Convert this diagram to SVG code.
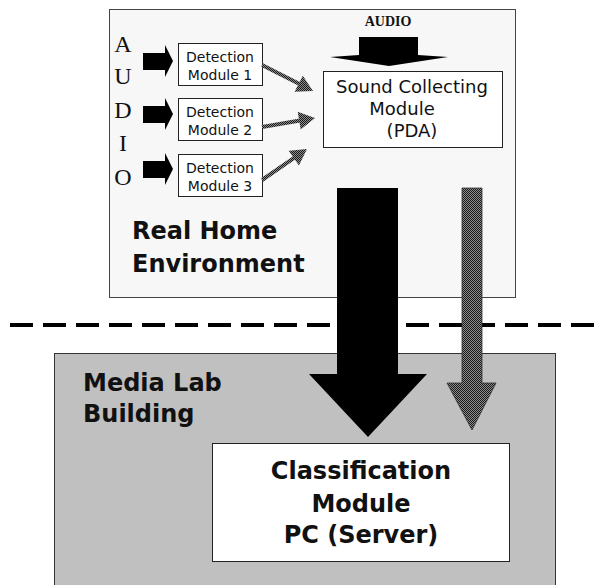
<svg xmlns="http://www.w3.org/2000/svg" width="601" height="585" viewBox="0 0 601 585">
<defs>
<pattern id="dots" width="2" height="2" patternUnits="userSpaceOnUse">
<rect width="2" height="2" fill="#8c8c8c"/>
<rect width="1" height="1" fill="#1a1a1a"/>
<rect x="1" y="1" width="1" height="1" fill="#1a1a1a"/>
</pattern>
</defs>
<style>
.box{fill:#fff;stroke:#222;stroke-width:1}
.det{font-family:"DejaVu Sans",Verdana,sans-serif;font-size:14px;fill:#111;text-anchor:middle}
.snd{font-family:"DejaVu Sans",Verdana,sans-serif;font-size:18px;fill:#111;text-anchor:middle}
.big{font-family:"DejaVu Sans",Verdana,sans-serif;font-size:24px;font-weight:bold;fill:#111}
.ser{font-family:"Liberation Serif","Times New Roman",serif;font-size:24px;fill:#111;text-anchor:middle}
.hat{stroke:url(#dots);stroke-width:4;fill:none}
.hh{fill:url(#dots)}
</style>
<rect width="601" height="585" fill="#fff"/>
<g id="media-lab">
<rect x="54.5" y="353.5" width="501" height="240" fill="#c0c0c0" stroke="#333" stroke-width="1"/>
<text class="big" x="83" y="391">Media Lab</text>
<text class="big" x="83" y="422">Building</text>
</g>
<g id="real-home">
<rect x="109.5" y="9.5" width="406" height="288" fill="#f7f7f7" stroke="#444" stroke-width="1"/>
<text class="big" x="132" y="239">Real Home</text>
<text class="big" x="132" y="272">Environment</text>
</g>
<g id="audio-letters">
<text class="ser" x="123" y="52">A</text>
<text class="ser" x="123" y="84">U</text>
<text class="ser" x="123" y="118">D</text>
<text class="ser" x="123" y="151">I</text>
<text class="ser" x="123" y="185">O</text>
</g>
<line x1="10" y1="325" x2="601" y2="325" stroke="#000" stroke-width="4" stroke-dasharray="23 10"/>
<g id="det1">
<rect class="box" x="178.5" y="43.5" width="84" height="42"/>
<text class="det" x="220" y="62">Detection</text>
<text class="det" x="220" y="80">Module 1</text>
</g>
<g id="det2">
<rect class="box" x="178.5" y="98.5" width="84" height="42"/>
<text class="det" x="220" y="117">Detection</text>
<text class="det" x="220" y="135">Module 2</text>
</g>
<g id="det3">
<rect class="box" x="178.5" y="154.5" width="84" height="42"/>
<text class="det" x="220" y="173">Detection</text>
<text class="det" x="220" y="191">Module 3</text>
</g>
<g id="sound">
<rect class="box" x="323.5" y="71.5" width="179" height="76"/>
<text class="snd" x="412" y="93">Sound Collecting</text>
<text class="snd" x="402" y="115">Module</text>
<text class="snd" x="412" y="137">(PDA)</text>
</g>
<g id="classification">
<rect class="box" x="212.5" y="443.5" width="297" height="118"/>
<text class="big" x="361" y="479" text-anchor="middle">Classification</text>
<text class="big" x="361" y="512" text-anchor="middle">Module</text>
<text class="big" x="361" y="543" text-anchor="middle">PC (Server)</text>
</g>
<g id="connectors">
<polygon points="143,53 165,53 165,45 173,61 165,77 165,70 143,70" fill="#000"/>
<polygon points="143,106 165,106 165,98 173,114 165,130 165,123 143,123" fill="#000"/>
<polygon points="143,161 165,161 165,153 173,169 165,185 165,178 143,178" fill="#000"/>
<text x="388" y="26" font-family="Liberation Serif,'Times New Roman',serif" font-size="14" font-weight="bold" text-anchor="middle" fill="#111">AUDIO</text>
<polygon points="359,37 418,37 418,55 448,57 389,66 330,57 359,55" fill="#000"/>
<line class="hat" x1="262" y1="65" x2="299.5" y2="84"/>
<polygon class="hh" points="313,91 294.6,91.7 302.8,75.7"/>
<line class="hat" x1="262" y1="127" x2="300" y2="120.5"/>
<polygon class="hh" points="315,118 300.7,129.6 297.7,111.8"/>
<line class="hat" x1="262" y1="180" x2="294.5" y2="157.6"/>
<polygon class="hh" points="307,149 298.9,165.5 288.7,150.7"/>
<polygon points="337,188 398,188 398,374 427,374 368,437 309,374 337,374" fill="#000"/>
<polygon points="462,188 482,188 482,383 496,383 472,430 447,383 462,383" fill="url(#dots)" stroke="#333" stroke-width="0.8"/>
</g>
</svg>
